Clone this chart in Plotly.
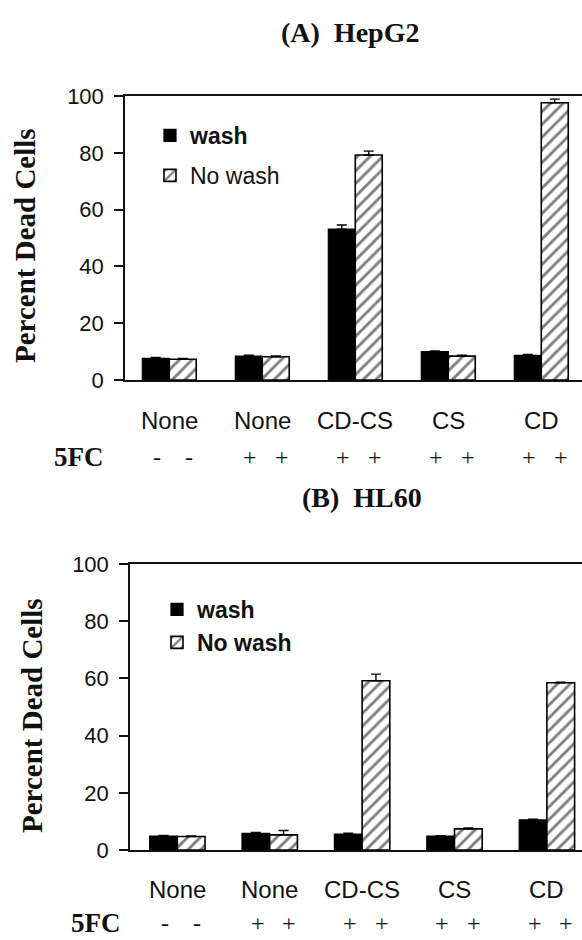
import plotly.graph_objects as go

# ---------------- data ----------------
groups = ["None", "None", "CD-CS", "CS", "CD"]
fc_signs = [["-", "-"], ["+", "+"], ["+", "+"], ["+", "+"], ["+", "+"]]
x_pos = [0, 1, 2, 3, 4]

hep_wash = [7.6, 8.4, 53.1, 10.0, 8.7]
hep_wash_err = [0.3, 0.3, 1.5, 0.2, 0.3]
hep_nowash = [7.3, 8.2, 79.2, 8.4, 97.6]
hep_nowash_err = [0.3, 0.3, 1.4, 0.3, 1.3]

hl_wash = [4.9, 5.8, 5.6, 4.9, 10.5]
hl_wash_err = [0.2, 0.3, 0.3, 0.1, 0.3]
hl_nowash = [4.7, 5.3, 59.2, 7.4, 58.5]
hl_nowash_err = [0.2, 1.5, 2.3, 0.3, 0.2]

y_ticks = [0, 20, 40, 60, 80, 100]

# ---------------- layout helpers ----------------
W, H = 582, 940
def px(x):
    return x / W
def py(y):
    return 1 - y / H

SANS = "Liberation Sans, Arial, sans-serif"
SERIF = "Liberation Serif, Times New Roman, serif"
INK = "#111111"

fig = go.Figure()

def add_panel(wash, wash_err, nowash, nowash_err, xa, ya, legend, w, bold_nowash, tag):
    common = dict(x=x_pos, width=w, xaxis=xa, yaxis=ya, legend=legend)
    fig.add_trace(go.Bar(
        y=wash, offset=-w, name="<b>wash</b>", legendgroup="w" + tag,
        marker=dict(color="black", line=dict(color="black", width=1.2)),
        error_y=dict(type="data", array=wash_err, arrayminus=[0] * len(wash_err),
                     symmetric=False, color="black", thickness=1.4, width=5),
        **common))
    fig.add_trace(go.Bar(
        y=nowash, offset=0, legendgroup="n" + tag,
        name="<b>No wash</b>" if bold_nowash else "No wash",
        marker=dict(color="white", line=dict(color="black", width=1.6),
                    pattern=dict(shape="/", fgcolor="black", bgcolor="white",
                                 size=9, solidity=0.32)),
        error_y=dict(type="data", array=nowash_err, arrayminus=[0] * len(nowash_err),
                     symmetric=False, color="black", thickness=1.4, width=5),
        **common))

add_panel(hep_wash, hep_wash_err, hep_nowash, hep_nowash_err, "x", "y", "legend", 0.29, False, "A")
add_panel(hl_wash, hl_wash_err, hl_nowash, hl_nowash_err, "x2", "y2", "legend2", 0.30, True, "B")

xcommon = dict(showline=True, mirror=True, linecolor=INK, linewidth=1.5,
               showticklabels=False, ticks="", showgrid=False, zeroline=False,
               fixedrange=True)
ycommon = dict(range=[0, 100], tickvals=y_ticks, ticks="outside", ticklen=9,
               tickwidth=1.5, tickcolor=INK, showline=True, linecolor=INK,
               linewidth=1.5, showgrid=False, zeroline=False,
               tickfont=dict(family=SANS, size=22, color=INK),
               ticklabelstandoff=6)

fig.update_layout(
    width=W, height=H,
    margin=dict(l=0, r=0, t=0, b=0, pad=0, autoexpand=False),
    paper_bgcolor="white", plot_bgcolor="white",
    barmode="overlay",
    showlegend=True,
    xaxis=dict(domain=[px(125), 1], range=[-0.476, 4.438], anchor="y", **xcommon),
    yaxis=dict(domain=[py(380), py(96)], anchor="x", **ycommon),
    xaxis2=dict(domain=[px(130), 1], range=[-0.512, 4.38], anchor="y2", **xcommon),
    yaxis2=dict(domain=[py(850), py(564)], anchor="x2", **ycommon),
    legend=dict(x=px(150), y=py(114), xanchor="left", yanchor="top",
                bgcolor="rgba(0,0,0,0)", tracegroupgap=7,
                font=dict(family=SANS, size=23, color=INK)),
    legend2=dict(x=px(157), y=py(588), xanchor="left", yanchor="top",
                 bgcolor="rgba(0,0,0,0)", tracegroupgap=0,
                 font=dict(family=SANS, size=23, color=INK)),
)

ann = []
C = dict(xanchor="center", yanchor="middle", showarrow=False)
# panel titles
ann.append(dict(text="<b>(A)  HepG2</b>", x=px(350), y=py(33), xref="paper", yref="paper",
                font=dict(family=SERIF, size=28, color=INK), **C))
ann.append(dict(text="<b>(B)  HL60</b>", x=px(362), y=py(497), xref="paper", yref="paper",
                font=dict(family=SERIF, size=28, color=INK), **C))
# y-axis titles
ann.append(dict(text="<b>Percent Dead Cells</b>", x=px(25), y=py(246), xref="paper", yref="paper",
                textangle=-90, font=dict(family=SERIF, size=29, color=INK), **C))
ann.append(dict(text="<b>Percent Dead Cells</b>", x=px(32), y=py(716), xref="paper", yref="paper",
                textangle=-90, font=dict(family=SERIF, size=29, color=INK), **C))

for xa, y_lab, y_sign, x5 in [("x", 420, 457, 79), ("x2", 889, 923, 96)]:
    for i, g in enumerate(groups):
        ann.append(dict(text=g, x=x_pos[i], y=py(y_lab), xref=xa, yref="paper",
                        font=dict(family=SANS, size=24, color=INK), **C))
        for s, dx in zip(fc_signs[i], [-0.13, 0.21]):
            ann.append(dict(text=s, x=x_pos[i] + dx, y=py(y_sign), xref=xa, yref="paper",
                            font=dict(family=SERIF, size=24, color=INK), **C))
    ann.append(dict(text="<b>5FC</b>", x=px(x5), y=py(y_sign), xref="paper", yref="paper",
                    font=dict(family=SERIF, size=27, color=INK), **C))

fig.update_layout(annotations=ann)
fig.write_html("out.html")
